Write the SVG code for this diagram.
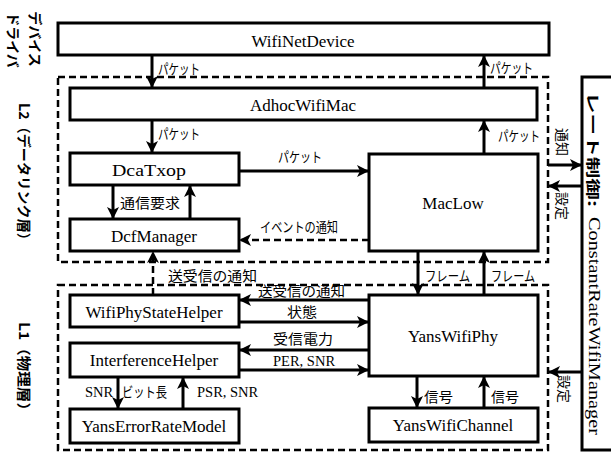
<svg xmlns="http://www.w3.org/2000/svg" width="611" height="453" viewBox="0 0 611 453">
<style>
.box{fill:#fff;stroke:#000;stroke-width:3}
.dbox{fill:none;stroke:#000;stroke-width:2.5;stroke-dasharray:7 4}
.ln{fill:none;stroke:#000;stroke-width:3}
.dl{fill:none;stroke:#000;stroke-width:2.5;stroke-dasharray:7 4}
.nt{font-family:'Liberation Serif',serif;font-size:17px;font-weight:400;text-anchor:middle;fill:#000;stroke:none}
.jp{font-family:'Noto Sans CJK JP',sans-serif;font-size:14px;font-weight:400;fill:#000;stroke:none}
.se{font-family:'Liberation Serif',serif;font-size:14.5px;font-weight:400;fill:#000;stroke:none}
.bj{font-family:'Noto Sans CJK JP',sans-serif;font-size:14px;font-weight:bold;fill:#000;stroke:none}
</style>
<defs>
<marker id="ah" markerUnits="userSpaceOnUse" markerWidth="12" markerHeight="12" refX="10" refY="5" orient="auto" viewBox="0 0 10 10">
<path d="M0,0 L10,5 L0,10 L2.5,5 z" fill="#000"/>
</marker>
</defs>
<rect width="611" height="453" fill="#fff"/>

<!-- layer frames -->
<g id="L2frame"><rect class="dbox" x="58" y="77" width="490" height="185"/></g>
<g id="L1frame"><rect class="dbox" x="58" y="285" width="490" height="165"/></g>

<!-- side labels -->
<g id="labels">
<text class="bj" transform="translate(36,39) rotate(90)" text-anchor="middle" dominant-baseline="central">デバイス</text>
<text class="bj" transform="translate(14,40) rotate(90)" text-anchor="middle" dominant-baseline="central">ドライバ</text>
<text class="bj" transform="translate(25,175) rotate(90)" text-anchor="middle" dominant-baseline="central" textLength="144" lengthAdjust="spacingAndGlyphs">L2（データリンク層）</text>
<text class="bj" transform="translate(25,370) rotate(90)" text-anchor="middle" dominant-baseline="central" textLength="96" lengthAdjust="spacingAndGlyphs">L1（物理層）</text>
</g>

<!-- nodes -->
<g id="WifiNetDevice"><rect class="box" x="58" y="23" width="491" height="32"/><text class="nt" x="303" y="47">WifiNetDevice</text></g>
<g id="AdhocWifiMac"><rect class="box" x="70" y="88" width="467" height="32"/><text class="nt" x="303" y="111">AdhocWifiMac</text></g>
<g id="DcaTxop"><rect class="box" x="70" y="153" width="169" height="32"/><text class="nt" x="149" y="176" textLength="74" lengthAdjust="spacingAndGlyphs">DcaTxop</text></g>
<g id="DcfManager"><rect class="box" x="70" y="219" width="169" height="32"/><text class="nt" x="154" y="242">DcfManager</text></g>
<g id="MacLow"><rect class="box" x="369" y="154" width="169" height="97"/><text class="nt" x="453" y="209">MacLow</text></g>
<g id="WifiPhyStateHelper"><rect class="box" x="70" y="295" width="169" height="32"/><text class="nt" x="154" y="318">WifiPhyStateHelper</text></g>
<g id="InterferenceHelper"><rect class="box" x="70" y="343" width="169" height="34"/><text class="nt" x="154" y="366">InterferenceHelper</text></g>
<g id="YansErrorRateModel"><rect class="box" x="70" y="409" width="169" height="34"/><text class="nt" x="154" y="432">YansErrorRateModel</text></g>
<g id="YansWifiPhy"><rect class="box" x="369" y="295" width="169" height="81"/><text class="nt" x="453" y="342">YansWifiPhy</text></g>
<g id="YansWifiChannel"><rect class="box" x="369" y="408" width="169" height="34"/><text class="nt" x="453" y="431">YansWifiChannel</text></g>
<g id="RateControl"><rect class="box" x="582" y="77" width="40" height="373"/>
<text class="bj" transform="translate(594,92) rotate(90)" dominant-baseline="central" textLength="115" lengthAdjust="spacingAndGlyphs">レート制御:</text>
<text transform="translate(594,217) rotate(90)" dominant-baseline="central" font-family="'Liberation Serif',serif" font-size="16" textLength="218" lengthAdjust="spacingAndGlyphs">ConstantRateWifiManager</text>
</g>

<!-- connectors -->
<g id="connectors">
<line class="ln" x1="152" y1="55" x2="152" y2="88" marker-end="url(#ah)"/>
<line class="ln" x1="484" y1="88" x2="484" y2="55" marker-end="url(#ah)"/>
<line class="ln" x1="152" y1="120" x2="152" y2="153" marker-end="url(#ah)"/>
<line class="ln" x1="484" y1="154" x2="484" y2="120" marker-end="url(#ah)"/>
<line class="ln" x1="239" y1="171" x2="369" y2="171" marker-end="url(#ah)"/>
<line class="ln" x1="113" y1="185" x2="113" y2="219" marker-end="url(#ah)"/>
<line class="ln" x1="190" y1="219" x2="190" y2="185" marker-end="url(#ah)"/>
<line class="dl" x1="369" y1="240" x2="239" y2="240" marker-end="url(#ah)"/>
<line class="dl" x1="153" y1="295" x2="153" y2="251" marker-end="url(#ah)"/>
<line class="ln" x1="418" y1="251" x2="418" y2="295" marker-end="url(#ah)"/>
<line class="ln" x1="484" y1="295" x2="484" y2="251" marker-end="url(#ah)"/>
<line class="ln" x1="369" y1="300" x2="239" y2="300" marker-end="url(#ah)"/>
<line class="ln" x1="239" y1="322" x2="369" y2="322" marker-end="url(#ah)"/>
<line class="ln" x1="369" y1="350" x2="239" y2="350" marker-end="url(#ah)"/>
<line class="ln" x1="239" y1="370" x2="369" y2="370" marker-end="url(#ah)"/>
<line class="ln" x1="118" y1="377" x2="118" y2="409" marker-end="url(#ah)"/>
<line class="ln" x1="183" y1="409" x2="183" y2="377" marker-end="url(#ah)"/>
<line class="ln" x1="417" y1="376" x2="417" y2="408" marker-end="url(#ah)"/>
<line class="ln" x1="484" y1="408" x2="484" y2="376" marker-end="url(#ah)"/>
<line class="ln" x1="548" y1="165" x2="582" y2="165" marker-end="url(#ah)"/>
<line class="ln" x1="582" y1="186" x2="548" y2="186" marker-end="url(#ah)"/>
<line class="ln" x1="582" y1="372" x2="548" y2="372" marker-end="url(#ah)"/>

<text class="jp" x="158" y="74" textLength="42" lengthAdjust="spacingAndGlyphs">パケット</text>
<text class="jp" x="490" y="73" textLength="43" lengthAdjust="spacingAndGlyphs">パケット</text>
<text class="jp" x="158" y="139" textLength="42" lengthAdjust="spacingAndGlyphs">パケット</text>
<text class="jp" x="498" y="141" textLength="42" lengthAdjust="spacingAndGlyphs">パケット</text>
<text class="jp" x="278" y="162" textLength="44" lengthAdjust="spacingAndGlyphs">パケット</text>
<text class="jp" x="120" y="208" textLength="60" lengthAdjust="spacingAndGlyphs">通信要求</text>
<text class="jp" x="260" y="232" textLength="78" lengthAdjust="spacingAndGlyphs">イベントの通知</text>
<text class="jp" x="168" y="281" textLength="89" lengthAdjust="spacingAndGlyphs">送受信の通知</text>
<text class="jp" x="425" y="281" textLength="45" lengthAdjust="spacingAndGlyphs">フレーム</text>
<text class="jp" x="491" y="281" textLength="44" lengthAdjust="spacingAndGlyphs">フレーム</text>
<text class="jp" x="258" y="296" font-size="13" textLength="87" lengthAdjust="spacingAndGlyphs">送受信の通知</text>
<text class="jp" x="287" y="317" textLength="30" lengthAdjust="spacingAndGlyphs">状態</text>
<text class="jp" x="273" y="344" textLength="60" lengthAdjust="spacingAndGlyphs">受信電力</text>
<text class="se" x="273" y="366">PER, SNR</text>
<text class="se" x="85" y="397">SNR</text>
<text class="jp" x="122" y="397" textLength="45" lengthAdjust="spacingAndGlyphs">ビット長</text>
<text class="se" x="197" y="397">PSR, SNR</text>
<text class="jp" x="424" y="402" textLength="29" lengthAdjust="spacingAndGlyphs">信号</text>
<text class="jp" x="491" y="402" textLength="28" lengthAdjust="spacingAndGlyphs">信号</text>
<text class="jp" transform="translate(563,142) rotate(90)" text-anchor="middle" dominant-baseline="central">通知</text>
<text class="jp" transform="translate(563,206) rotate(90)" text-anchor="middle" dominant-baseline="central">設定</text>
<text class="jp" transform="translate(565,389) rotate(90)" text-anchor="middle" dominant-baseline="central">設定</text>
</g>
</svg>
